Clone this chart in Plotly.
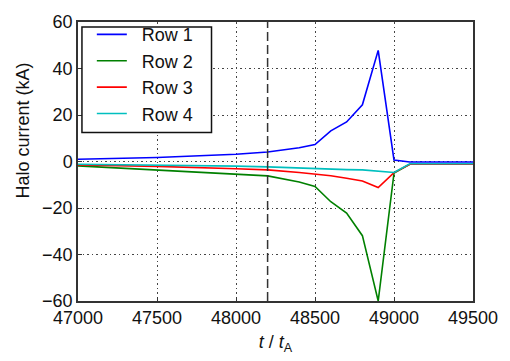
import plotly.graph_objects as go

t = [47000, 47500, 48000, 48200, 48400, 48500, 48600, 48700, 48800, 48900, 49000, 49100, 49500]
row1 = [1.0, 1.7, 3.1, 4.1, 5.9, 7.3, 13.2, 17.0, 24.4, 47.8, 0.6, -0.2, -0.2]
row2 = [-1.9, -3.6, -5.2, -6.2, -8.8, -10.7, -17.3, -22.2, -31.9, -60.0, -5.0, -1.2, -1.2]
row3 = [-1.5, -2.1, -3.1, -3.6, -4.7, -5.4, -6.1, -7.2, -8.4, -11.2, -4.8, -1.2, -1.2]
row4 = [-1.2, -1.5, -2.0, -2.3, -2.9, -3.1, -3.3, -3.5, -3.6, -4.0, -4.7, -1.0, -1.0]
names = ["Row 1", "Row 2", "Row 3", "Row 4"]
colors = ["#0000ff", "#008000", "#ff0000", "#00bfbf"]
marker_t = 48200
xticks = [47000, 47500, 48000, 48500, 49000, 49500]
yticks = [-60, -40, -20, 0, 20, 40, 60]
y_title = "Halo current (kA)"

font = "Liberation Sans, Arial, sans-serif"
fig = go.Figure()
for ys, nm, c in zip([row1, row2, row3, row4], names, colors):
    fig.add_trace(go.Scatter(x=t, y=ys, mode="lines", name="\u00a0\u00a0" + nm,
                             line=dict(color=c, width=1.6)))

fig.add_vline(x=marker_t, line=dict(color="#333333", width=1.5, dash="9px,4px"))

# legend frame
fig.add_shape(type="rect", xref="paper", yref="paper", x0=0.010, x1=0.338, y0=0.604, y1=0.982,
              line=dict(color="#111111", width=1.5), fillcolor="white", layer="above")

# y-axis title (placed as in the reference, above the axis centre)
fig.add_annotation(text=y_title, xref="paper", yref="paper", x=-0.14, y=0.61,
                   textangle=-90, showarrow=False, xanchor="center", yanchor="middle",
                   font=dict(size=18, color="#111111", family=font))

axis_common = dict(showline=True, linecolor="#333333", linewidth=1.5, mirror=True,
                   ticks="inside", ticklen=4, tickcolor="#333333",
                   showgrid=True, gridcolor="#444444", gridwidth=1.2, griddash="1.5px,3px",
                   zeroline=False, tickfont=dict(size=18, color="#111111", family=font))

fig.update_xaxes(range=[47000, 49500], tickvals=xticks, ticktext=[str(v) for v in xticks],
                 title=dict(text="<i>t</i> / <i>t</i><sub>A</sub>", font=dict(size=18, color="#111111", family=font), standoff=8),
                 **axis_common)
fig.update_yaxes(range=[-60, 60], tickvals=yticks,
                 ticktext=[("\u2212" + str(-v)) if v < 0 else str(v) for v in yticks],
                 **axis_common)

fig.update_layout(
    width=510, height=361,
    margin=dict(l=78, r=31, t=16, b=60),
    paper_bgcolor="white", plot_bgcolor="white",
    font=dict(family=font, size=18, color="#111111"),
    showlegend=True,
    legend=dict(x=0.035, y=1.021, xanchor="left", yanchor="top",
                bgcolor="rgba(0,0,0,0)", borderwidth=0,
                font=dict(size=18, family=font, color="#111111"),
                itemwidth=30, tracegroupgap=0),
)

fig.write_html("out.html")
